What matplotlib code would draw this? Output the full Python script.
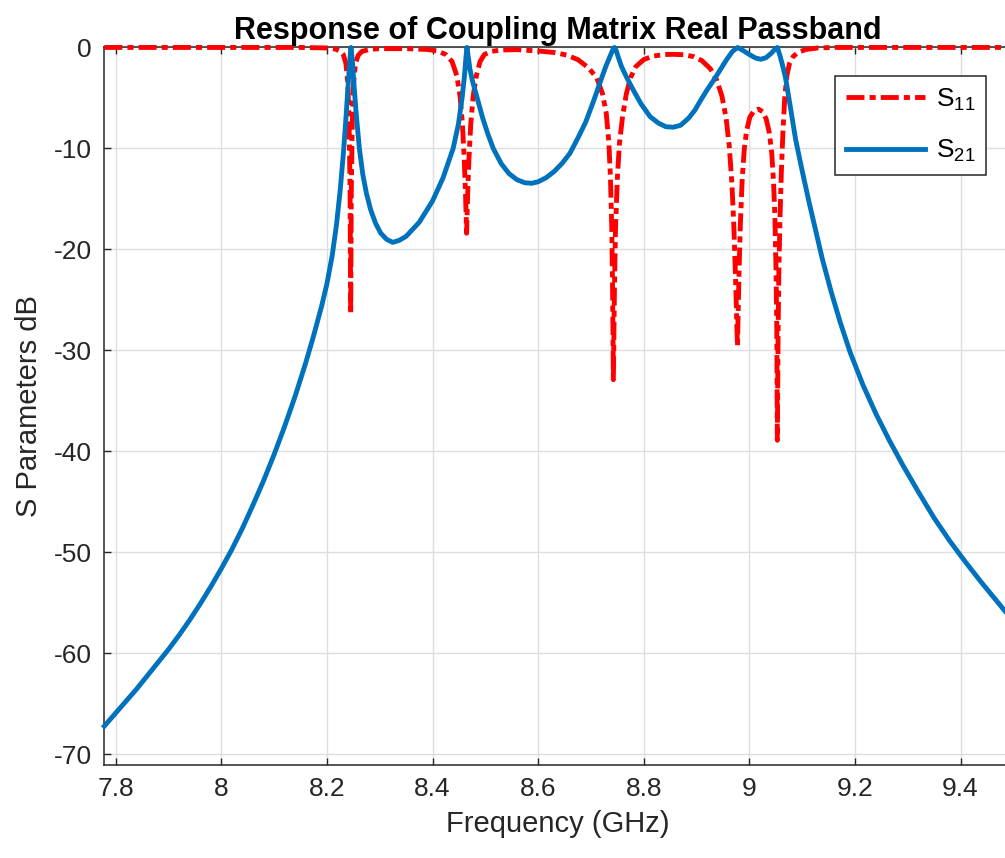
import matplotlib
matplotlib.use('Agg')
import matplotlib.pyplot as plt

plt.rcParams['font.family'] = ['Liberation Sans', 'DejaVu Sans']
plt.rcParams['mathtext.fontset'] = 'custom'
plt.rcParams['mathtext.rm'] = 'Liberation Sans'
plt.rcParams['mathtext.it'] = 'Liberation Sans'
plt.rcParams['axes.unicode_minus'] = False

# frequency (GHz) / dB values
s21_f = [7.7784, 7.80, 7.82, 7.84, 7.86, 7.88, 7.90, 7.92, 7.94, 7.96,
         7.98, 8.00, 8.02, 8.04, 8.06, 8.08, 8.10, 8.12, 8.14, 8.16,
         8.175, 8.19, 8.20, 8.21, 8.218, 8.225, 8.231, 8.236, 8.240, 8.243,
         8.2455, 8.248, 8.251, 8.255, 8.2614, 8.268, 8.275, 8.283, 8.292, 8.302,
         8.313, 8.3246, 8.337, 8.350, 8.375, 8.400, 8.420, 8.439, 8.449, 8.456,
         8.4605, 8.4632, 8.4652, 8.4675, 8.471, 8.476, 8.4835, 8.495, 8.505, 8.515,
         8.530, 8.545, 8.560, 8.575, 8.588, 8.600, 8.615, 8.630, 8.645, 8.660,
         8.675, 8.690, 8.705, 8.717, 8.728, 8.736, 8.7412, 8.7445, 8.7478, 8.752,
         8.758, 8.768, 8.780, 8.795, 8.812, 8.828, 8.842, 8.856, 8.870, 8.885,
         8.897, 8.907, 8.920, 8.933, 8.945, 8.957, 8.968, 8.9777, 8.988, 9.000,
         9.012, 9.022, 9.032, 9.042, 9.049, 9.053, 9.058, 9.0635, 9.0685, 9.078,
         9.0876, 9.100, 9.113, 9.125, 9.138, 9.155, 9.172, 9.191, 9.215, 9.240,
         9.265, 9.290, 9.320, 9.350, 9.380, 9.410, 9.440, 9.465, 9.484]
s21_db = [-67.2, -65.9, -64.7, -63.5, -62.2, -60.9, -59.6, -58.2, -56.7, -55.1,
          -53.4, -51.6, -49.7, -47.6, -45.3, -42.9, -40.3, -37.5, -34.5, -31.2,
          -28.5, -25.6, -23.4, -20.6, -17.6, -14.2, -10.6, -7.0, -3.8, -1.5,
          0.0, -1.2, -3.5, -6.3, -10.0, -12.6, -14.5, -16.1, -17.4, -18.4,
          -19.0, -19.3, -19.1, -18.7, -17.3, -15.2, -12.9, -10.0, -7.6, -5.0,
          -2.8, -1.0, 0.0, -0.9, -2.2, -3.4, -4.8, -7.0, -8.6, -10.0,
          -11.5, -12.5, -13.1, -13.4, -13.45, -13.3, -12.9, -12.3, -11.5, -10.5,
          -9.0, -7.4, -5.3, -3.5, -1.9, -0.9, -0.25, 0.0, -0.3, -1.0,
          -1.9, -3.0, -4.2, -5.6, -6.85, -7.5, -7.85, -7.9, -7.7, -7.0,
          -6.2, -5.3, -4.2, -3.2, -2.2, -1.2, -0.4, 0.0, -0.3, -0.7,
          -1.05, -1.17, -1.0, -0.55, -0.15, 0.0, -0.8, -1.9, -3.0, -6.0,
          -9.1, -12.2, -15.3, -18.0, -20.9, -24.2, -27.2, -30.2, -33.4, -36.3,
          -38.9, -41.3, -44.0, -46.6, -48.9, -51.0, -53.0, -54.6, -55.8]

s11_f = [7.7784, 8.15, 8.20, 8.215, 8.225, 8.231, 8.236, 8.2395, 8.242, 8.2438,
         8.245, 8.2462, 8.248, 8.2505, 8.254, 8.259, 8.266, 8.28, 8.30, 8.35,
         8.39, 8.41, 8.425, 8.437, 8.446, 8.452, 8.4565, 8.460, 8.4625, 8.4645,
         8.4665, 8.469, 8.4725, 8.477, 8.483, 8.490, 8.498, 8.510, 8.53, 8.56,
         8.60, 8.63, 8.654, 8.675, 8.695, 8.711, 8.722, 8.729, 8.734, 8.737,
         8.7395, 8.741, 8.7425, 8.7445, 8.7465, 8.750, 8.754, 8.760, 8.767, 8.775,
         8.785, 8.800, 8.818, 8.840, 8.856, 8.875, 8.894, 8.910, 8.926, 8.938,
         8.948, 8.956, 8.962, 8.967, 8.9705, 8.9735, 8.9775, 8.9805, 8.983, 8.9865,
         8.9905, 8.995, 9.001, 9.009, 9.017, 9.025, 9.032, 9.038, 9.0425, 9.046,
         9.0485, 9.0505, 9.052, 9.053, 9.0545, 9.056, 9.058, 9.0605, 9.0635, 9.067,
         9.071, 9.076, 9.083, 9.092, 9.107, 9.13, 9.16, 9.4975]
s11_db = [0.0, 0.0, -0.05, -0.15, -0.35, -0.7, -1.6, -3.5, -7.5, -14.0,
          -26.4, -14.0, -7.5, -3.5, -1.6, -0.8, -0.4, -0.2, -0.12, -0.12,
          -0.2, -0.35, -0.7, -1.4, -2.8, -4.8, -7.5, -11.0, -14.5, -18.4,
          -14.5, -11.0, -7.5, -4.8, -2.8, -1.4, -0.7, -0.4, -0.25, -0.22,
          -0.35, -0.5, -0.75, -1.2, -2.0, -3.0, -4.6, -6.5, -9.5, -13.0,
          -18.0, -24.0, -32.9, -24.0, -18.0, -13.0, -9.5, -6.8, -4.6, -3.0,
          -1.9, -1.2, -0.85, -0.7, -0.68, -0.72, -0.9, -1.3, -2.1, -3.2,
          -4.8, -7.0, -9.8, -13.5, -17.5, -22.2, -29.6, -22.2, -17.5, -13.0,
          -10.0, -8.2, -6.9, -6.25, -6.1, -6.35, -7.1, -8.5, -10.5, -13.5,
          -17.0, -22.0, -28.0, -38.9, -28.0, -22.0, -17.0, -12.5, -8.5, -5.0,
          -2.8, -1.6, -0.9, -0.5, -0.2, -0.05, 0.0, 0.0]

xticks = [7.8, 8.0, 8.2, 8.4, 8.6, 8.8, 9.0, 9.2, 9.4]
xtick_labels = ['7.8', '8', '8.2', '8.4', '8.6', '8.8', '9', '9.2', '9.4']
yticks = [0, -10, -20, -30, -40, -50, -60, -70]

dark = '#262626'
fig = plt.figure(figsize=(10.05, 8.58), dpi=100)
ax = fig.add_axes([0.1038, 0.1084, 0.9032, 0.8363])

ax.plot(s11_f, s11_db, color='#ff0000', lw=3.5, ls=(0, (3.7, 1.05, 1.25, 1.05)),
        label=r'S$_{11}$', clip_on=False, zorder=3)
ax.plot(s21_f, s21_db, color='#0072bd', lw=3.5, label=r'S$_{21}$',
        clip_on=False, zorder=3)

ax.set_xlim(7.7784, 9.4975)
ax.set_ylim(-71.05, 0)
ax.set_xticks(xticks)
ax.set_xticklabels(xtick_labels)
ax.set_yticks(yticks)
ax.grid(True, color='#dedede', lw=1.0)
ax.set_axisbelow(True)
ax.tick_params(direction='in', length=5, width=1.0, colors=dark,
               labelsize=19, top=True, right=True, pad=9)
for sp in ax.spines.values():
    sp.set_color(dark)
    sp.set_linewidth(1.1)

ax.set_title('Response of Coupling Matrix Real Passband', fontsize=22,
             fontweight='bold', color='black', pad=6)
ax.set_xlabel('Frequency (GHz)', fontsize=21, color=dark, labelpad=6)
ax.set_ylabel('S Parameters dB', fontsize=21, color=dark, labelpad=8)

leg = ax.legend(loc='upper right', bbox_to_anchor=(0.971, 0.960),
                borderaxespad=0, fontsize=19, handlelength=3.0,
                fancybox=False, framealpha=1, edgecolor=dark,
                borderpad=0.4, labelspacing=0.95, handletextpad=0.4)
leg.get_frame().set_linewidth(1.1)

fig.savefig('out.png', dpi=100)
